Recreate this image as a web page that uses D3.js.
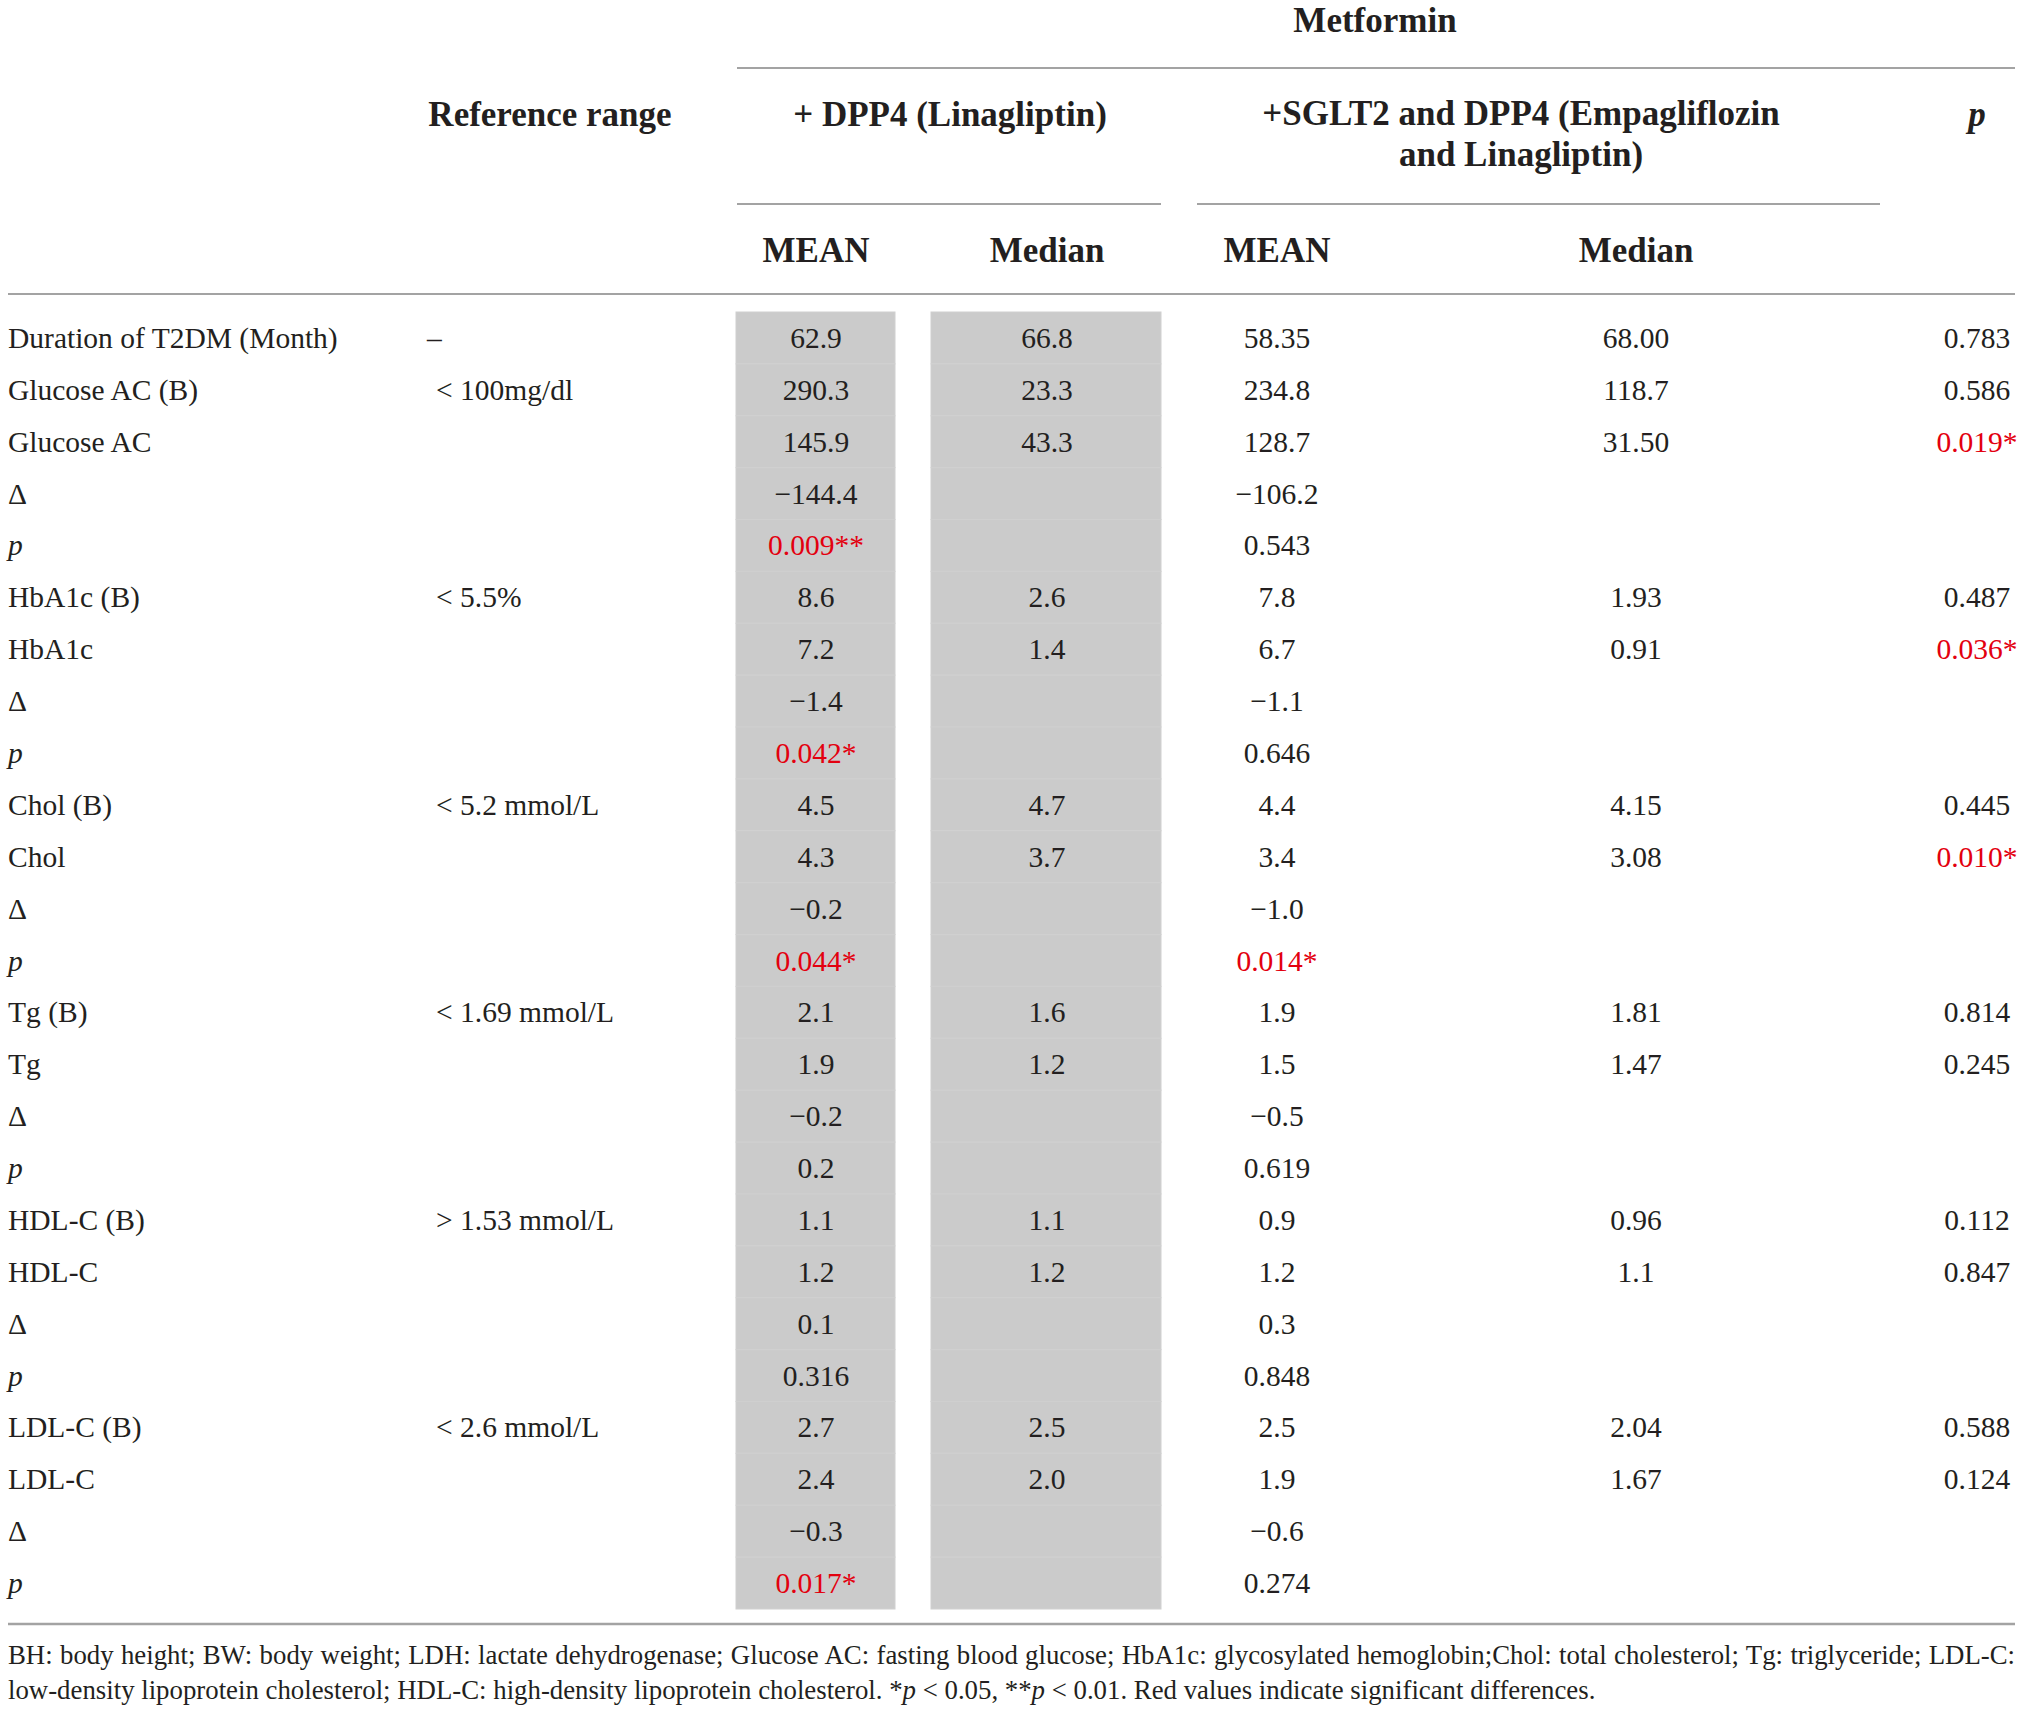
<!DOCTYPE html>
<html lang="en">
<head>
  <meta charset="UTF-8" />
  <title>Metformin combination table</title>
  <script src="https://d3js.org/d3.v7.min.js"></script>
  <style>
    body { margin: 0; background: #fff; }
    svg text { font-family: "Liberation Serif", "DejaVu Serif", serif; fill: #231f20; }
    .head { font-weight: bold; font-size: 35px; }
    .cell { font-size: 29.5px; }
    .sig { fill: #e3000f; }
    .foot { font-size: 26.8px; fill: #333; }
  </style>
</head>
<body>
  <div id="chart"></div>
  <script>
    // Row labels, top to bottom
    const rowLabels = [
      "Duration of T2DM (Month)", "Glucose AC (B)", "Glucose AC", "Δ", "p",
      "HbA1c (B)", "HbA1c", "Δ", "p",
      "Chol (B)", "Chol", "Δ", "p",
      "Tg (B)", "Tg", "Δ", "p",
      "HDL-C (B)", "HDL-C", "Δ", "p",
      "LDL-C (B)", "LDL-C", "Δ", "p"
    ];
    const refRanges = [
      "–", "< 100mg/dl", "", "", "",
      "< 5.5%", "", "", "",
      "< 5.2 mmol/L", "", "", "",
      "< 1.69 mmol/L", "", "", "",
      "> 1.53 mmol/L", "", "", "",
      "< 2.6 mmol/L", "", "", ""
    ];
    // + DPP4 (Linagliptin)
    const dppMean = [
      "62.9", "290.3", "145.9", "−144.4", "0.009**",
      "8.6", "7.2", "−1.4", "0.042*",
      "4.5", "4.3", "−0.2", "0.044*",
      "2.1", "1.9", "−0.2", "0.2",
      "1.1", "1.2", "0.1", "0.316",
      "2.7", "2.4", "−0.3", "0.017*"
    ];
    const dppMedian = [
      "66.8", "23.3", "43.3", "", "",
      "2.6", "1.4", "", "",
      "4.7", "3.7", "", "",
      "1.6", "1.2", "", "",
      "1.1", "1.2", "", "",
      "2.5", "2.0", "", ""
    ];
    // +SGLT2 and DPP4 (Empagliflozin and Linagliptin)
    const comboMean = [
      "58.35", "234.8", "128.7", "−106.2", "0.543",
      "7.8", "6.7", "−1.1", "0.646",
      "4.4", "3.4", "−1.0", "0.014*",
      "1.9", "1.5", "−0.5", "0.619",
      "0.9", "1.2", "0.3", "0.848",
      "2.5", "1.9", "−0.6", "0.274"
    ];
    const comboMedian = [
      "68.00", "118.7", "31.50", "", "",
      "1.93", "0.91", "", "",
      "4.15", "3.08", "", "",
      "1.81", "1.47", "", "",
      "0.96", "1.1", "", "",
      "2.04", "1.67", "", ""
    ];
    const pValues = [
      "0.783", "0.586", "0.019*", "", "",
      "0.487", "0.036*", "", "",
      "0.445", "0.010*", "", "",
      "0.814", "0.245", "", "",
      "0.112", "0.847", "", "",
      "0.588", "0.124", "", ""
    ];
    const footLines = [
      "BH: body height; BW: body weight; LDH: lactate dehydrogenase; Glucose AC: fasting blood glucose; HbA1c: glycosylated hemoglobin;Chol: total cholesterol; Tg: triglyceride; LDL-C:",
      "low-density lipoprotein cholesterol; HDL-C: high-density lipoprotein cholesterol. *p < 0.05, **p < 0.01. Red values indicate significant differences."
    ];

    const width = 2021, height = 1714;
    const svg = d3.select("#chart").append("svg")
      .attr("width", width).attr("height", height);

    const y = d3.scaleBand()
      .domain(d3.range(rowLabels.length))
      .range([312, 1609]);
    const yc = i => y(i) + y.bandwidth() / 2;

    // column layout
    const col = { label: 8, ref: 436, dMean: 816, dMed: 1047, cMean: 1277, cMed: 1636, p: 1977 };
    const shade = [
      { x0: 736, x1: 895 },
      { x0: 931, x1: 1161 }
    ];

    // grey shaded columns, one rect per row
    shade.forEach(s => {
      svg.append("g").selectAll("rect")
        .data(rowLabels)
        .join("rect")
        .attr("x", s.x0)
        .attr("width", s.x1 - s.x0)
        .attr("y", (d, i) => y(i))
        .attr("height", y.bandwidth())
        .attr("fill", "#cbcbcb")
        .attr("stroke", "#d0d0d0")
        .attr("stroke-width", 1);
    });

    // rules
    const rules = [
      { x0: 737, x1: 2015, y: 68, w: 2 },
      { x0: 737, x1: 1161, y: 204, w: 2 },
      { x0: 1197, x1: 1880, y: 204, w: 2 },
      { x0: 8, x1: 2015, y: 294, w: 2 },
      { x0: 8, x1: 2015, y: 1624, w: 2.5 }
    ];
    svg.append("g").selectAll("line")
      .data(rules)
      .join("line")
      .attr("x1", d => d.x0).attr("x2", d => d.x1)
      .attr("y1", d => d.y).attr("y2", d => d.y)
      .attr("stroke", "#a3a3a3")
      .attr("stroke-width", d => d.w);

    // header texts
    const head = svg.append("g").attr("class", "head").attr("text-anchor", "middle");
    head.append("text").attr("x", 1375).attr("y", 32).text("Metformin");
    head.append("text").attr("x", 550).attr("y", 126).text("Reference range");
    head.append("text").attr("x", 950).attr("y", 126).text("+ DPP4 (Linagliptin)");
    head.append("text").attr("x", 1521).attr("y", 125).text("+SGLT2 and DPP4 (Empagliflozin");
    head.append("text").attr("x", 1521).attr("y", 166).text("and Linagliptin)");
    head.append("text").attr("x", 1977).attr("y", 126).attr("font-style", "italic").text("p");
    head.append("text").attr("x", col.dMean).attr("y", 262).text("MEAN");
    head.append("text").attr("x", col.dMed).attr("y", 262).text("Median");
    head.append("text").attr("x", col.cMean).attr("y", 262).text("MEAN");
    head.append("text").attr("x", col.cMed).attr("y", 262).text("Median");

    // body cells
    const body = svg.append("g").attr("class", "cell");

    body.selectAll(".rlab")
      .data(rowLabels)
      .join("text")
      .attr("class", "rlab")
      .attr("x", col.label)
      .attr("y", (d, i) => yc(i))
      .attr("dy", "0.34em")
      .attr("font-style", d => d === "p" ? "italic" : null)
      .text(d => d);

    body.selectAll(".rref")
      .data(refRanges)
      .join("text")
      .attr("class", "rref")
      .attr("x", d => d === "–" ? col.ref - 9 : col.ref)
      .attr("y", (d, i) => yc(i))
      .attr("dy", "0.34em")
      .text(d => d);

    const valueCols = [
      [dppMean, col.dMean],
      [dppMedian, col.dMed],
      [comboMean, col.cMean],
      [comboMedian, col.cMed],
      [pValues, col.p]
    ];
    valueCols.forEach(([vals, cx]) => {
      body.append("g").selectAll("text")
        .data(vals)
        .join("text")
        .attr("x", cx)
        .attr("y", (d, i) => yc(i))
        .attr("dy", "0.34em")
        .attr("text-anchor", "middle")
        .attr("class", d => d.includes("*") ? "sig" : null)
        .text(d => d);
    });

    // footnote, with italic p and justified first line
    const foot = svg.append("g").attr("class", "foot");
    const footY = [1664, 1699];
    footLines.forEach((line, k) => {
      const t = foot.append("text").attr("x", 8).attr("y", footY[k]);
      const parts = line.split(/(\*+p)/);
      parts.forEach(part => {
        if (/^\*+p$/.test(part)) {
          t.append("tspan").text(part.slice(0, -1));
          t.append("tspan").attr("font-style", "italic").text("p");
        } else if (part) {
          t.append("tspan").text(part);
        }
      });
      if (k === 0) {
        const len = t.node().getComputedTextLength();
        const spaces = (line.match(/ /g) || []).length;
        const extra = (2015 - 8) - len;
        if (spaces > 0) t.attr("word-spacing", extra / spaces);
      }
    });
  </script>
</body>
</html>
